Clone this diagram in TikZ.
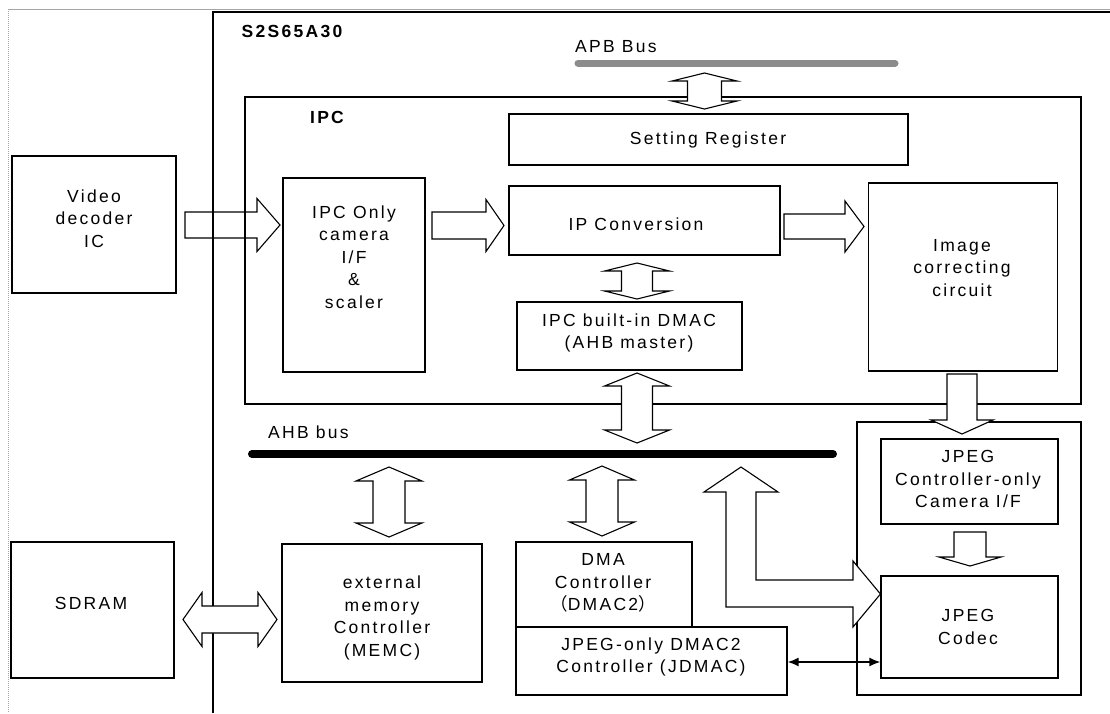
\documentclass[tikz,border=0pt]{standalone}
\usepackage{fontspec}
\setmainfont{Liberation Sans}[LetterSpace=13]
\newfontfamily\cjk{Noto Sans CJK SC}
\usetikzlibrary{arrows.meta}
\tikzset{
  box/.style={draw, line width=1.1pt, inner sep=0pt},
  txt/.style={align=center, inner sep=0pt, font=\fontsize{17.5}{22.5}\selectfont},
  ttl/.style={inner sep=0pt, font=\fontsize{17.5}{22.5}\selectfont\bfseries},
  blk/.style={draw, line width=1.1pt, line join=miter},
  blkw/.style={blk, fill=white},
}
% right-pointing block arrow: x0, xtip, yc, shaft half, head half, head length
\newcommand\rArrow[7]{\draw[#7] (#1,#3-#4) -- (#2-#6,#3-#4) -- (#2-#6,#3-#5) -- (#2,#3) -- (#2-#6,#3+#5) -- (#2-#6,#3+#4) -- (#1,#3+#4) -- cycle;}
% down-pointing block arrow: xc, ytop, ytip, shaft half, head half, head length
\newcommand\dArrow[6]{\draw[blkw] (#1-#4,#2) -- (#1+#4,#2) -- (#1+#4,#3-#6) -- (#1+#5,#3-#6) -- (#1,#3) -- (#1-#5,#3-#6) -- (#1-#4,#3-#6) -- cycle;}
% vertical double block arrow: xc, ytop, ybot, shaft half, head half, head length
\newcommand\vdArrow[6]{\draw[blkw] (#1,#2) -- (#1+#5,#2+#6) -- (#1+#4,#2+#6) -- (#1+#4,#3-#6) -- (#1+#5,#3-#6) -- (#1,#3) -- (#1-#5,#3-#6) -- (#1-#4,#3-#6) -- (#1-#4,#2+#6) -- (#1-#5,#2+#6) -- cycle;}
% horizontal double block arrow: xleft, xright, yc, shaft half, head half, head length
\newcommand\hdArrow[6]{\draw[blkw] (#1,#3) -- (#1+#6,#3-#5) -- (#1+#6,#3-#4) -- (#2-#6,#3-#4) -- (#2-#6,#3-#5) -- (#2,#3) -- (#2-#6,#3+#5) -- (#2-#6,#3+#4) -- (#1+#6,#3+#4) -- (#1+#6,#3+#5) -- cycle;}
\begin{document}
\begin{tikzpicture}[x=1pt, y=-1pt]
\useasboundingbox (0,0) rectangle (1110,713);
% outer frame
\draw[gray!70, line width=1pt] (8,9) -- (1110,9);
\draw[gray!70, line width=1pt, densely dotted] (8,9) -- (8,713);
% S2S65A30 chip
\draw[line width=1.1pt] (213,713) -- (213,12) -- (1110,12);
\node[ttl] (chip) at (292,31) {S2S65A30};
% IPC
\node[box, minimum width=836pt, minimum height=307pt] (ipc) at (663,250.5) {};
\node[ttl] (ipcl) at (327,117) {IPC};
% APB bus
\node[txt, anchor=west] (apbl) at (575,47) {APB Bus};
\draw[line width=7pt, color=gray!90!white, line cap=round] (578,63) coordinate (apb1) -- (895,63) coordinate (apb2);
% boxes inside IPC
\node[box, minimum width=399pt, minimum height=51pt] (set) at (708.5,139.5) {};
\node[txt] (setl) at (708,140) {Setting Register};
\node[box, minimum width=142pt, minimum height=194pt] (cam) at (354,275) {};
\node[txt] (caml) at (354,257) {IPC Only\\camera\\I/F\\\&\\scaler};
\node[box, minimum width=271pt, minimum height=69pt] (ipconv) at (644.5,220.5) {};
\node[txt] (ipconvl) at (636,224) {IP Conversion};
\node[box, minimum width=189pt, minimum height=188pt] (img) at (963,277) {};
\node[txt] (imgl) at (962,268) {Image\\correcting\\circuit};
\node[box, minimum width=225pt, minimum height=68pt] (dmac) at (629.5,336) {};
\node[txt] (dmacl) at (629,333) {IPC built-in DMAC\\(AHB master)};
% AHB bus
\node[txt, anchor=west] (ahbl) at (268,432) {AHB bus};
\draw[line width=8pt, line cap=round] (252,454) coordinate (ahb1) -- (833,454) coordinate (ahb2);
% JPEG group
\node[box, minimum width=224pt, minimum height=273pt] (jgrp) at (969,558.5) {};
\node[box, minimum width=177pt, minimum height=85pt] (jcam) at (969.5,481.5) {};
\node[txt] (jcaml) at (968,479) {JPEG\\Controller-only\\Camera I/F};
\node[box, minimum width=177pt, minimum height=102pt] (codec) at (969.5,627) {};
\node[txt] (codecl) at (968,627) {JPEG\\Codec};
% DMA / JDMAC
\node[box, minimum width=176pt, minimum height=85pt] (dma) at (604,584.5) {};
\node[txt] (dmal) at (603,583) {DMA\\Controller\\{\cjk（}DMAC2{\cjk）}};
\node[box, minimum width=271pt, minimum height=68pt] (jdmac) at (651.5,661) {};
\node[txt] (jdmacl) at (651,657) {JPEG-only DMAC2\\Controller (JDMAC)};
% MEMC
\node[box, minimum width=200pt, minimum height=138pt] (memc) at (382,613) {};
\node[txt] (memcl) at (382,618) {external\\memory\\Controller\\(MEMC)};
% external
\node[box, minimum width=164pt, minimum height=137pt] (video) at (94,224.5) {};
\node[txt] (videol) at (94,218.5) {Video\\decoder\\IC};
\node[box, minimum width=163pt, minimum height=136pt] (sdram) at (92.5,610) {};
\node[txt] (sdraml) at (91,603) {SDRAM};
% block arrows
\rArrow{185}{280}{225}{13}{26.5}{23}{blk}
\rArrow{432}{504}{225.5}{13.5}{26}{18}{blkw}
\rArrow{784}{864}{226.5}{12.5}{25.5}{19}{blkw}
\vdArrow{704.5}{73}{109}{17}{32.5}{8}
\vdArrow{637}{263}{299}{15.5}{32.5}{8}
\vdArrow{637}{373}{443}{15.5}{32.5}{13}
\vdArrow{389}{467}{537}{16}{33}{14}
\vdArrow{602}{466}{536}{16}{32.5}{14}
\dArrow{962}{374}{434}{15}{31}{14}
\dArrow{970}{532}{566}{16}{31}{9}
\hdArrow{183}{277}{619.5}{13.5}{27}{19}
% bent arrow AHB <-> JPEG codec
\draw[blkw] (741,467) -- (778,492) -- (756,492) -- (756,580) -- (853,580) -- (853,561)
  -- (codec.west |- 0,594) -- (853,627) -- (853,607) -- (726,607) -- (726,492) -- (704,492) -- cycle;
% JDMAC <-> codec
\draw[line width=1.8pt, {Latex[length=11pt,width=9pt]}-{Latex[length=11pt,width=9pt]}] (jdmac.east |- 0,662) -- (codec.west |- 0,662);
\end{tikzpicture}
\end{document}
